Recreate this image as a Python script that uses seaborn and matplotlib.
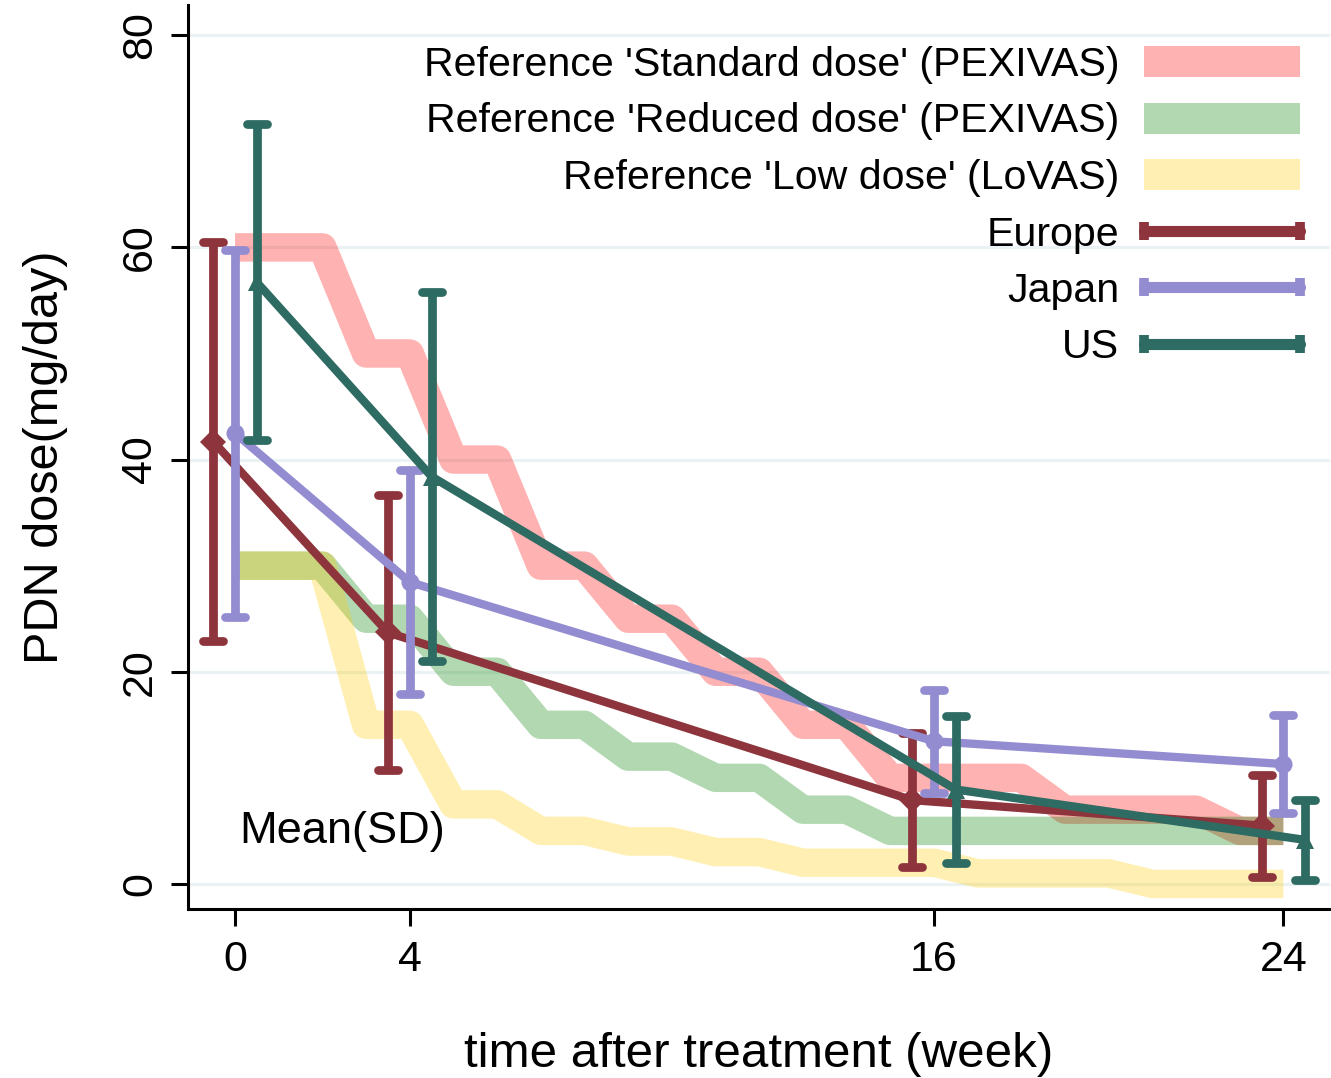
import matplotlib
matplotlib.use('Agg')
import matplotlib.pyplot as plt
import seaborn as sns
import pandas as pd
from matplotlib.lines import Line2D
from matplotlib.patches import Patch
from matplotlib.legend_handler import HandlerLine2D
from matplotlib.markers import MarkerStyle
from matplotlib.colors import to_rgba

# reference regimens, weekly dose (mg/day)
WEEKS = list(range(25))
STANDARD = [60, 60, 60, 50, 50, 40, 40, 30, 30, 25, 25, 20, 20, 15, 15,
            10, 10, 10, 10, 7, 7, 7, 7, 5, 5]
REDUCED = [30, 30, 30, 25, 25, 20, 20, 15, 15, 12, 12, 10, 10, 7, 7,
           5, 5, 5, 5, 5, 5, 5, 5, 5, 5]
LOW = [30, 30, 30, 15, 15, 7.5, 7.5, 5, 5, 4, 4, 3, 3, 2, 2,
       2, 2, 1, 1, 1, 1, 0, 0, 0, 0]
REF_LABELS = ["Reference 'Standard dose' (PEXIVAS)",
              "Reference 'Reduced dose' (PEXIVAS)",
              "Reference 'Low dose' (LoVAS)"]
REF_COLORS = ['#FF0000', '#008000', '#FFCC00']

# observed doses, mean and SD
TIMEPOINTS = [0, 4, 16, 24]
REGIONS = ['Europe', 'Japan', 'US']
EUROPE_MEAN = [41.7, 23.7, 7.9, 5.5]
EUROPE_SD = [18.8, 13.0, 6.3, 4.8]
JAPAN_MEAN = [42.5, 28.45, 13.45, 11.3]
JAPAN_SD = [17.3, 10.55, 4.85, 4.6]
US_MEAN = [56.7, 38.4, 8.9, 4.15]
US_SD = [14.9, 17.4, 6.9, 3.75]

COLORS = {'Europe': '#8E343C', 'Japan': '#938CD0', 'US': '#2E6B63'}
MARKERS = {'Europe': 'D', 'Japan': 'o', 'US': '^'}
OFFSET = {'Europe': -0.5, 'Japan': 0.0, 'US': 0.5}

sns.set_theme(style='white')
plt.rcParams['font.family'] = ['Liberation Sans', 'DejaVu Sans']
plt.rcParams['text.color'] = 'black'
plt.rcParams['axes.labelcolor'] = 'black'

fig = plt.figure(figsize=(13.31, 10.78), dpi=100)
ax = fig.add_axes([0.1413, 0.1568, 0.8577, 0.8386])

ref = pd.DataFrame({
    'week': WEEKS * 3,
    'dose': STANDARD + REDUCED + LOW,
    'regimen': [REF_LABELS[0]] * 25 + [REF_LABELS[1]] * 25 + [REF_LABELS[2]] * 25,
})
sns.lineplot(data=ref, x='week', y='dose', hue='regimen', hue_order=REF_LABELS,
             palette=REF_COLORS, alpha=0.3, linewidth=20.5, legend=False, ax=ax,
             solid_joinstyle='round', solid_capstyle='butt')

series = {'Europe': (EUROPE_MEAN, EUROPE_SD),
          'Japan': (JAPAN_MEAN, JAPAN_SD),
          'US': (US_MEAN, US_SD)}
for name in REGIONS:
    mean, sd = series[name]
    x = [t + OFFSET[name] for t in TIMEPOINTS]
    eb = ax.errorbar(x, mean, yerr=sd, fmt='none', ecolor=COLORS[name],
                     elinewidth=6.3, capsize=7, capthick=6.3)
    for cap in eb[1]:
        cap.set_marker(MarkerStyle('_', capstyle='round'))
    sns.lineplot(x=x, y=mean, color=COLORS[name], marker=MARKERS[name],
                 markersize=13, markeredgewidth=0, linewidth=6, ax=ax)

ax.text(0.1, 4.9, 'Mean(SD)', fontsize=32.5, ha='left', va='center')

ax.set_xlim(-1.075, 25.06)
ax.set_ylim(-2.36, 82.85)
ax.set_xticks(TIMEPOINTS)
ax.set_yticks([0, 20, 40, 60, 80])
ax.yaxis.grid(True, color='#EAF2F3', linewidth=2.2)
ax.xaxis.grid(False)
ax.set_axisbelow(True)
sns.despine(ax=ax)
for s in ['left', 'bottom']:
    ax.spines[s].set_color('black')
    ax.spines[s].set_linewidth(2.2)
ax.tick_params(direction='out', length=12.5, width=2.2, color='black',
               labelsize=31, labelcolor='black')
ax.tick_params(axis='x', pad=9.5, bottom=True)
ax.tick_params(axis='y', pad=7.5, left=True, labelrotation=90)
for lab in ax.get_yticklabels():
    lab.set_va('center')

ax.set_xlabel('time after treatment (week)', fontsize=35.5, labelpad=38)
ax.set_ylabel('PDN dose(mg/day)', fontsize=35, labelpad=38)

handles = [Patch(facecolor=to_rgba(c, 0.3), edgecolor='none') for c in REF_COLORS]
handler_map = {}
for name in REGIONS:
    h = Line2D([], [], color=COLORS[name], linewidth=8, marker='|',
               markersize=13, markeredgewidth=7)
    handles.append(h)
    handler_map[h] = HandlerLine2D(numpoints=2, marker_pad=0)
ax.legend(handles, REF_LABELS + REGIONS, handler_map=handler_map,
          loc='upper right', bbox_to_anchor=(1300 / 1331, 1032 / 1078),
          bbox_transform=fig.transFigure, frameon=False, fontsize=29.6,
          labelcolor='black', markerfirst=False, handlelength=3.8,
          handletextpad=0.6, labelspacing=0.45, handleheight=0.77,
          borderpad=0, borderaxespad=0)

fig.savefig('out.png', dpi=100, facecolor='white')
